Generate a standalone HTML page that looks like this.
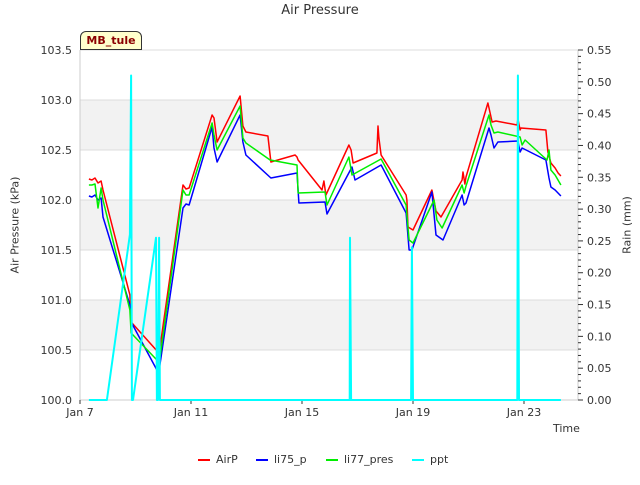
<!DOCTYPE html>
<html><head><meta charset="utf-8"><style>
body{margin:0;background:#fff;font-family:"Liberation Sans","DejaVu Sans",sans-serif}
svg text{font-family:"DejaVu Sans","Liberation Sans",sans-serif}
</style></head><body>
<svg id="c" width="640" height="480" xmlns="http://www.w3.org/2000/svg"></svg>
<script>
const xTicks=["Jan 7","Jan 11","Jan 15","Jan 19","Jan 23"];
const xTickDays=[0,4,8,12,16];
const yTicks=[100.0,100.5,101.0,101.5,102.0,102.5,103.0,103.5];
const y2Ticks=[0,0.05,0.10,0.15,0.20,0.25,0.30,0.35,0.40,0.45,0.50,0.55];
const airT=[0.32,0.43,0.54,0.65,0.76,0.83,1.80,1.84,2.81,2.88,3.71,3.82,3.93,4.76,4.83,4.94,5.77,5.87,5.98,6.77,6.88,7.75,7.82,7.86,8.72,8.79,8.86,9.69,9.77,9.84,10.70,10.74,10.77,10.85,11.75,11.78,11.82,12.00,12.68,12.83,13.01,13.77,13.80,13.87,13.91,14.70,14.77,14.85,14.99,15.75,15.78,15.86,15.89,16.79,16.86,16.97,17.12,17.23,17.33];
const airV=[102.21,102.20,102.22,102.17,102.19,102.10,101.05,100.78,100.48,100.52,102.15,102.11,102.12,102.85,102.82,102.58,103.04,102.74,102.68,102.64,102.38,102.45,102.43,102.40,102.10,102.19,102.05,102.55,102.50,102.37,102.47,102.74,102.62,102.45,102.05,102.00,101.73,101.70,102.10,101.89,101.83,102.20,102.28,102.16,102.23,102.97,102.88,102.78,102.79,102.75,102.81,102.70,102.72,102.70,102.48,102.37,102.32,102.27,102.24];
const li75T=[0.32,0.43,0.54,0.65,0.76,0.83,1.80,1.84,2.77,2.85,2.88,3.71,3.82,3.93,4.76,4.83,4.94,5.77,5.87,5.98,6.88,7.82,7.89,8.83,8.90,9.80,9.91,10.85,11.75,11.86,11.96,12.68,12.83,13.08,13.77,13.84,13.91,14.74,14.81,14.92,15.06,15.78,15.86,15.93,16.79,16.90,16.97,17.12,17.33];
const li75V=[102.04,102.03,102.05,102.00,102.02,101.83,100.95,100.78,100.30,100.30,100.35,101.92,101.96,101.95,102.73,102.52,102.38,102.85,102.58,102.45,102.22,102.27,101.97,101.98,101.86,102.33,102.20,102.35,101.87,101.50,101.50,102.08,101.65,101.60,102.05,101.95,101.97,102.72,102.65,102.52,102.58,102.59,102.48,102.52,102.40,102.22,102.13,102.10,102.04];
const li77T=[0.32,0.43,0.54,0.65,0.76,0.83,1.80,1.84,2.77,2.88,3.71,3.82,3.93,4.76,4.83,4.94,5.77,5.87,5.98,6.85,7.82,7.86,8.83,8.90,9.69,9.80,10.85,11.75,11.78,11.86,12.00,12.76,12.86,13.05,13.77,13.84,13.91,14.74,14.81,14.92,15.06,15.86,15.93,16.04,16.83,16.90,16.97,17.12,17.33];
const li77V=[102.15,102.15,102.16,101.92,102.12,102.00,100.90,100.67,100.40,100.42,102.10,102.05,102.05,102.77,102.65,102.50,102.94,102.62,102.57,102.40,102.35,102.07,102.08,101.95,102.43,102.25,102.41,101.95,101.85,101.60,101.57,102.00,101.80,101.72,102.15,102.07,102.14,102.85,102.75,102.67,102.68,102.63,102.55,102.60,102.40,102.50,102.30,102.25,102.15];
const pptT=[0.32,0.97,1.80,1.84,1.87,1.91,2.74,2.77,2.81,2.85,2.88,9.72,9.73,9.77,11.93,11.96,12.00,15.76,15.78,15.82,17.33];
const pptV=[0,0,0.26,0.51,0,0,0.255,0,0,0.255,0,0,0.255,0,0,0.24,0,0,0.51,0,0];

const L=80,R=578,T=50,B=400;
const xs=d=>L+d*27.75;
const ys=v=>B-(v-100)*100;
const y2=v=>B-v*(350/0.55);
const svg=document.getElementById('c');
const NS='http://www.w3.org/2000/svg';
function mk(tag,at,parent){const e=document.createElementNS(NS,tag);for(const k in at)e.setAttribute(k,at[k]);(parent||svg).appendChild(e);return e;}

// bands
[[102.5,103],[101.5,102],[100.5,101]].forEach(b=>{
 const r=mk('rect',{x:L,y:ys(b[1]),width:R-L,height:ys(b[0])-ys(b[1]),fill:'#f2f2f2'});
 
 
});
yTicks.forEach(v=>{
 const l=mk('line',{x1:L,x2:R,y1:ys(v),y2:ys(v),stroke:'#dcdcdc','stroke-width':1});
 
 
 const t=mk('text',{x:L-8,y:ys(v)+4,'text-anchor':'end','font-size':11,fill:'#333'});
 t.textContent=v.toFixed(1);
 
 
});
// axes
mk('line',{x1:L,x2:L,y1:T,y2:B,stroke:'#ccc'});
mk('line',{x1:L,x2:R,y1:B,y2:B,stroke:'#ccc'});
mk('line',{x1:R,x2:R,y1:T,y2:B,stroke:'#ccc'});
xTicks.forEach((s,i)=>{
 const x=xs(xTickDays[i]);
 mk('line',{x1:x,x2:x,y1:B,y2:B+4,stroke:'#333'});
 const t=mk('text',{x:x,y:B+16,'text-anchor':'middle','font-size':11,fill:'#333'});
 t.textContent=s;
 
 
});
for(let i=0;i<=55;i++){const y=y2(i/100);mk('line',{x1:R,x2:R+(i%5==0?5:3),y1:y,y2:y,stroke:'#333'});}
y2Ticks.forEach(v=>{
 const t=mk('text',{x:R+9,y:y2(v)+4,'font-size':11,fill:'#333'});
 t.textContent=v.toFixed(2);
 
 
});
function line(T_,V_,sc,col,name,w){
 const p=mk('polyline',{points:T_.map((d,i)=>xs(d).toFixed(1)+','+sc(V_[i]).toFixed(1)).join(' '),fill:'none',stroke:col,'stroke-width':w,'stroke-linejoin':'round'});
 
 
}
line(airT,airV,ys,'#ff0000','airp-line',1.5);
line(li75T,li75V,ys,'#0000ff','li75-p-line',1.5);
line(li77T,li77V,ys,'#00ee00','li77-pres-line',1.5);
line(pptT,pptV,y2,'#00ffff','ppt-line',2);
</script>
<div style="position:absolute;left:0;top:0;width:640px;height:480px;pointer-events:none;font-family:'DejaVu Sans','Liberation Sans',sans-serif;color:#333">
 <div style="position:absolute;top:3px;width:640px;text-align:center;font-size:13px">Air Pressure</div>
 <div style="position:absolute;left:15px;top:225px;font-size:11px;transform:translate(-50%,-50%) rotate(-90deg);white-space:nowrap">Air Pressure (kPa)</div>
 <div style="position:absolute;left:627px;top:225px;font-size:11px;transform:translate(-50%,-50%) rotate(-90deg);white-space:nowrap">Rain (mm)</div>
 <div style="position:absolute;left:553px;top:422px;font-size:11px">Time</div>
 <div style="position:absolute;left:80px;top:31px;width:60px;height:17px;background:#ffffcc;border:1px solid #333;border-radius:6px 6px 0 0;font-size:11px;font-weight:bold;color:#8b0000;text-align:center;line-height:17px">MB_tule</div>
 <div style="position:absolute;top:453px;left:198px;font-size:11px;display:flex;gap:0">
  <span style="display:inline-flex;align-items:center;width:58px"><i style="display:inline-block;width:12px;height:2px;background:#f00;margin-right:6px"></i>AirP</span>
  <span style="display:inline-flex;align-items:center;width:70px"><i style="display:inline-block;width:12px;height:2px;background:#00f;margin-right:6px"></i>li75_p</span>
  <span style="display:inline-flex;align-items:center;width:86px"><i style="display:inline-block;width:12px;height:2px;background:#0e0;margin-right:6px"></i>li77_pres</span>
  <span style="display:inline-flex;align-items:center"><i style="display:inline-block;width:12px;height:2px;background:#0ff;margin-right:6px"></i>ppt</span>
 </div>
</div>
</body></html>
